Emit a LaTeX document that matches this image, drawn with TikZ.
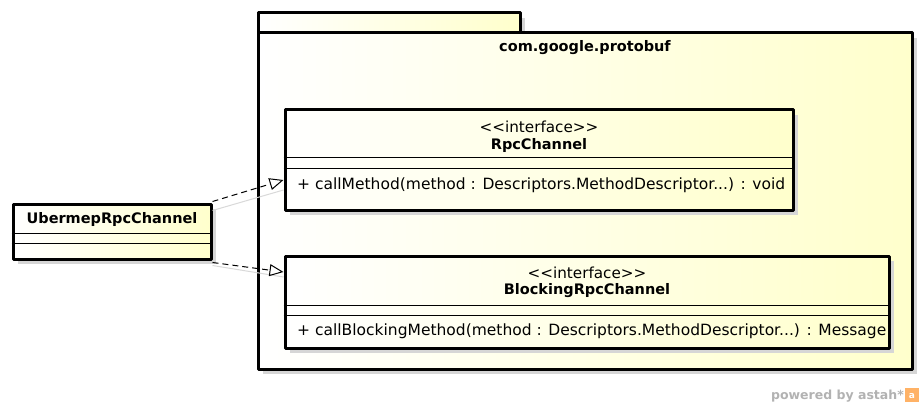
\documentclass[tikz,border=0pt]{standalone}
\usepackage{fontspec}
\setmainfont[Ligatures=NoCommon]{DejaVu Sans}
\usetikzlibrary{arrows.meta,calc,positioning,shadows}
\definecolor{umlyellow}{RGB}{255,255,204}
\definecolor{umlshadow}{RGB}{214,214,214}
\tikzset{
  umlbox/.style={draw=black, line width=3pt, shading=axis, left color=white, right color=umlyellow,
    inner sep=0pt, drop shadow={shadow xshift=5pt, shadow yshift=-5pt, fill=umlshadow, opacity=1}},
  stereo/.style={font=\fontsize{15.2}{17}\selectfont, inner sep=0pt},
  cname/.style={font=\fontsize{14.5}{17}\selectfont\bfseries, inner sep=0pt},
  member/.style={font=\fontsize{15.5}{17}\selectfont, inner sep=0pt, anchor=west},
  realize/.style={dashed, dash pattern=on 6pt off 4pt, line width=1pt, -{Triangle[open, length=14pt, width=12pt]}},
  linkshadow/.style={draw=gray!30, line width=1pt}
}
\begin{document}
\begin{tikzpicture}[x=1pt, y=-1pt, line join=round]
  \useasboundingbox[fill=white] (0,0) rectangle (924,409);
  % package com.google.protobuf
  \node[umlbox, minimum width=262pt, minimum height=20pt] (pkgtab) at (389,23) {};
  \node[umlbox, minimum width=654pt, minimum height=336pt] (pkg) at (585,201) {};
  \node[cname] (pkgname) at (585,48) {com.google.protobuf};

  % interface RpcChannel
  \node[umlbox, minimum width=508pt, minimum height=100pt] (rpc) at (539,160) {};
  \node[stereo] (rpcstereo) at (539,127) {{<}{<}interface{>}{>}};
  \node[cname] (rpcname) at (539,145) {RpcChannel};
  \draw[line width=0.8pt] (rpc.west |- 0,157) -- (rpc.east |- 0,157);
  \draw[line width=0.8pt] (rpc.west |- 0,168) -- (rpc.east |- 0,168);
  \node[member] (rpcop) at (297,185) {+ callMethod(method : Descriptors.MethodDescriptor...) : void};

  % interface BlockingRpcChannel
  \node[umlbox, minimum width=604pt, minimum height=92pt] (block) at (587,302) {};
  \node[stereo] (blockstereo) at (587,273) {{<}{<}interface{>}{>}};
  \node[cname] (blockname) at (587,291) {BlockingRpcChannel};
  \draw[line width=0.8pt] (block.west |- 0,305) -- (block.east |- 0,305);
  \draw[line width=0.8pt] (block.west |- 0,315) -- (block.east |- 0,315);
  \node[member] (blockop) at (297,331) {+ callBlockingMethod(method : Descriptors.MethodDescriptor...) : Message};

  % class UbermepRpcChannel
  \node[umlbox, minimum width=198pt, minimum height=55pt] (uber) at (112,231.5) {};
  \node[cname] (ubername) at (112,219) {UbermepRpcChannel};
  \draw[line width=0.8pt] (uber.west |- 0,233) -- (uber.east |- 0,233);
  \draw[line width=0.8pt] (uber.west |- 0,243) -- (uber.east |- 0,243);

  % realizations
  \coordinate (r1) at ([yshift=-20pt]rpc.west);
  \coordinate (r2) at ([yshift=30pt]block.west);
  \draw[linkshadow] ([yshift=-8pt]uber.north east) -- ([yshift=-10pt]r1);
  \draw[linkshadow] ([yshift=-5pt]uber.south east) -- ([yshift=-5pt]r2);
  \draw[realize] ([yshift=1pt]uber.north east) -- (r1);
  \draw[realize] ([yshift=-2pt]uber.south east) -- (r2);

  % watermark
  \node[anchor=east, inner sep=0pt, text=gray!60, font=\fontsize{12.5}{14}\selectfont\bfseries] (astah) at (904,396) {powered by astah*};
  \fill[orange!60] (905,388) rectangle (919,402);
  \node[inner sep=0pt, text=white, font=\fontsize{9}{10}\selectfont\bfseries] (astahicon) at (912,396) {a};
\end{tikzpicture}
\end{document}
